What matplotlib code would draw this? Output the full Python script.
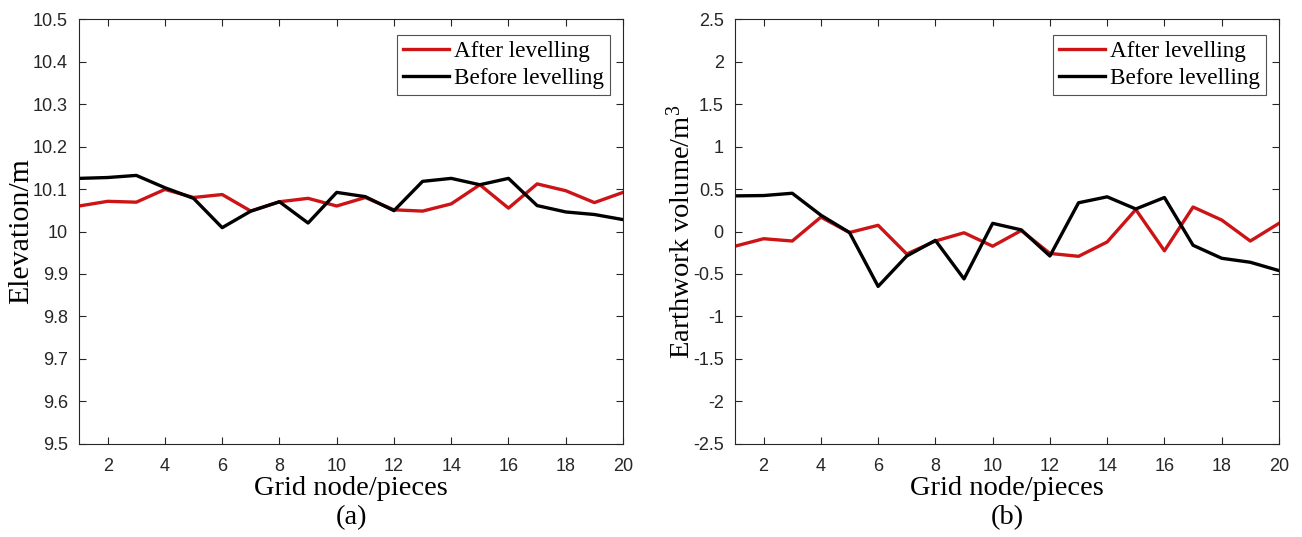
import matplotlib
matplotlib.use('Agg')
import matplotlib.pyplot as plt

plt.rcParams['mathtext.fontset'] = 'custom'
plt.rcParams['mathtext.rm'] = 'Liberation Serif'

nodes = list(range(1, 21))

# (a) elevation of each grid node, m
elev_after = [10.060, 10.071, 10.069, 10.099, 10.080, 10.087, 10.048, 10.070, 10.078, 10.060,
              10.080, 10.051, 10.048, 10.065, 10.110, 10.055, 10.112, 10.096, 10.068, 10.092]
elev_before = [10.125, 10.127, 10.132, 10.103, 10.078, 10.009, 10.048, 10.070, 10.020, 10.092,
               10.082, 10.049, 10.118, 10.125, 10.110, 10.125, 10.061, 10.046, 10.040, 10.028]

# (b) earthwork volume of each grid node, m^3
vol_after = [-0.173, -0.085, -0.112, 0.169, -0.012, 0.073, -0.265, -0.112, -0.015, -0.173,
             0.012, -0.258, -0.292, -0.123, 0.258, -0.227, 0.288, 0.135, -0.112, 0.096]
vol_before = [0.419, 0.423, 0.450, 0.192, -0.012, -0.646, -0.288, -0.104, -0.558, 0.096,
              0.019, -0.288, 0.338, 0.408, 0.265, 0.400, -0.162, -0.315, -0.362, -0.460]

red = '#cc1417'
serif = 'Liberation Serif'
sans = 'Liberation Sans'

fig = plt.figure(figsize=(13.02, 5.37), dpi=100)
ax1 = fig.add_axes([0.0607, 0.1732, 0.4178, 0.7914])
ax2 = fig.add_axes([0.5645, 0.1732, 0.4178, 0.7914])


def style_axes(ax):
    for s in ax.spines.values():
        s.set_color('#262626')
        s.set_linewidth(0.8)
    ax.tick_params(direction='in', length=5, width=0.8, color='#262626',
                   top=True, right=True, labelsize=13, pad=8)
    ax.tick_params(axis='x', pad=10)
    for lab in ax.get_xticklabels() + ax.get_yticklabels():
        lab.set_fontfamily(sans)
        lab.set_color('#262626')
    ax.set_xlim(1, 20)
    ax.set_xticks(range(2, 21, 2))


ax1.plot(nodes, elev_after, color=red, lw=2.4, label='After levelling')
ax1.plot(nodes, elev_before, color='black', lw=2.4, label='Before levelling')
ax1.set_ylim(9.5, 10.5)
ax1.set_yticks([9.5, 9.6, 9.7, 9.8, 9.9, 10.0, 10.1, 10.2, 10.3, 10.4, 10.5])
ax1.set_yticklabels(['9.5', '9.6', '9.7', '9.8', '9.9', '10', '10.1', '10.2', '10.3', '10.4', '10.5'])
style_axes(ax1)
ax1.set_ylabel('Elevation/m', fontfamily=serif, fontsize=21.5, labelpad=-1)
ax1.set_xlabel('Grid node/pieces\n(a)', fontfamily=serif, fontsize=20.5, labelpad=1,
               linespacing=1.2)

ax2.plot(nodes, vol_after, color=red, lw=2.4, label='After levelling')
ax2.plot(nodes, vol_before, color='black', lw=2.4, label='Before levelling')
ax2.set_ylim(-2.5, 2.5)
ax2.set_yticks([-2.5, -2, -1.5, -1, -0.5, 0, 0.5, 1, 1.5, 2, 2.5])
ax2.set_yticklabels(['-2.5', '-2', '-1.5', '-1', '-0.5', '0', '0.5', '1', '1.5', '2', '2.5'])
style_axes(ax2)
ax2.set_ylabel('Earthwork volume/m$\\mathregular{^3}$', fontfamily=serif, fontsize=20.5, labelpad=-2)
ax2.set_xlabel('Grid node/pieces\n(b)', fontfamily=serif, fontsize=20.5, labelpad=1,
               linespacing=1.2)

for ax in (ax1, ax2):
    leg = ax.legend(loc='upper right', prop={'family': serif, 'size': 16.7}, frameon=True,
                    fancybox=False, borderaxespad=0.5, handlelength=2.0, handletextpad=0.2,
                    borderpad=0.25, labelspacing=0.25, bbox_to_anchor=(0.997, 0.99))
    leg.get_frame().set_edgecolor('#262626')
    leg.get_frame().set_linewidth(0.8)

fig.savefig('out.png', dpi=100)
